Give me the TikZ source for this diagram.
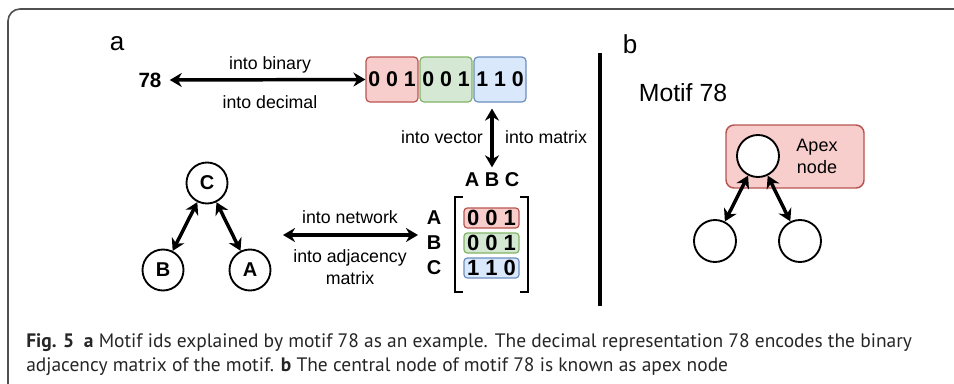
\documentclass[tikz,border=0pt]{standalone}
\usepackage{fontspec}
\setmainfont{Liberation Sans}
\newfontfamily\capfont{PT Sans}
\usetikzlibrary{arrows.meta}
\definecolor{redfill}{HTML}{F8CECC}
\definecolor{redline}{HTML}{B85450}
\definecolor{greenfill}{HTML}{D5E8D4}
\definecolor{greenline}{HTML}{82B366}
\definecolor{bluefill}{HTML}{DAE8FC}
\definecolor{blueline}{HTML}{6C8EBF}
\definecolor{framegray}{HTML}{505050}
\tikzset{
  lbl/.style={font=\fontsize{13.3}{16}\selectfont, inner sep=1pt},
  panel/.style={font=\fontsize{19.5}{20}\selectfont, inner sep=0pt},
  bold/.style={font=\fontsize{15}{15}\selectfont\bfseries, inner sep=1pt},
  bitsbox/.style={rounded corners=3pt, line width=0.9pt, inner sep=0pt,
    minimum width=39pt, minimum height=33.75pt, font=\fontsize{16}{16}\selectfont\bfseries},
  rowbox/.style={rounded corners=2.5pt, line width=0.9pt, inner sep=0pt,
    minimum width=41.25pt, minimum height=15pt, font=\fontsize{16.5}{16}\selectfont\bfseries},
  vertex/.style={circle, draw, line width=1.4pt, minimum size=30.75pt, inner sep=0pt,
    font=\fontsize{15}{15}\selectfont\bfseries},
  dbl/.style={{Stealth[length=9pt,width=10.5pt]}-{Stealth[length=9pt,width=10.5pt]}, line width=2.6pt},
}
\begin{document}
\begin{tikzpicture}[x=0.75pt,y=-0.75pt]
    \useasboundingbox (0,0) rectangle (954,383);
    \clip (0,0) rectangle (954,383);
    %frame
    \draw[framegray, line width=1.2pt, rounded corners=9pt] (8,400) -- (8,9) -- (970,9);
    \draw[line width=3pt] (600,53) -- (600,306);

    %panel a
    \node[panel] (pa) at (117,44) {a};
    \node[bold, font=\fontsize{15.5}{15}\selectfont\bfseries] (n78) at (150,80) {78};
    \node[bitsbox, fill=redfill, draw=redline] (bitr) at (392,79.5) {0 0 1};
    \node[bitsbox, fill=greenfill, draw=greenline] (bitg) at (446,79.5) {0 0 1};
    \node[bitsbox, fill=bluefill, draw=blueline] (bitb) at (500,79.5) {1 1 0};
    \node[lbl] (tobin) at (270,65) {into binary};
    \node[lbl] (todec) at (270,102) {into decimal};
    \node[lbl] (tovec) at (442,137) {into vector};
    \node[lbl] (tomat) at (546,137) {into matrix};

    % matrix
    \node[bold] (hdr) at (492,180) {A B C};
    \node[rowbox, fill=redfill, draw=redline] (rowa) at (491.5,218) {0 0 1};
    \node[rowbox, fill=greenfill, draw=greenline] (rowb) at (491.5,243) {0 0 1};
    \node[rowbox, fill=bluefill, draw=blueline] (rowc) at (491.5,268) {1 1 0};
    \node[bold] (la) at (434,218) {A};
    \node[bold] (lb) at (434,243) {B};
    \node[bold] (lc) at (434,268) {C};
    \node[minimum width=54.75pt, minimum height=71.25pt, inner sep=0pt] (mat) at (491.5,244.5) {};
    \draw[line width=1.5pt] ([xshift=6pt]mat.north west) -- (mat.north west) -- (mat.south west) -- ([xshift=6pt]mat.south west);
    \draw[line width=1.5pt] ([xshift=-6pt]mat.north east) -- (mat.north east) -- (mat.south east) -- ([xshift=-6pt]mat.south east);

    % network
    \node[vertex] (vc) at (207,183) {C};
    \node[vertex] (vb) at (163,270) {B};
    \node[vertex] (va) at (250,270) {A};
    \node[lbl] (tonet) at (350,217) {into network};
    \node[lbl, align=center, font=\fontsize{13.3}{16.5}\selectfont] (toadj) at (350,267) {into adjacency\\matrix};
    \coordinate (netl) at (283,235);
    \coordinate (netr) at (418,235);

    %edges
    \draw[dbl] ([xshift=5pt]n78.east) -- (bitr.west);
    \draw[dbl] ([yshift=-4.5pt]hdr.north |- bitb.south) -- ([yshift=3pt]hdr.north);
    \draw[dbl] (netl) -- (netr);
    \draw[dbl] (vc) -- (vb);
    \draw[dbl] (vc) -- (va);

    %panel b
    \node[panel] (pb) at (630,44) {b};
    \node[font=\fontsize{18.6}{20}\selectfont, inner sep=0pt] (motif) at (683,93) {Motif 78};
    \node[rounded corners=6pt, fill=redfill, draw=redline, line width=1.1pt,
      minimum width=103.5pt, minimum height=47.25pt] (apexbg) at (795,156.5) {};
    \node[vertex, fill=white, minimum size=31.5pt] (apex) at (758,156) {};
    \node[lbl, align=center, font=\fontsize{13.5}{16.5}\selectfont] (apextxt) at (817,156) {Apex\\node};
    \node[vertex, minimum size=31.5pt] (ml) at (715,241) {};
    \node[vertex, minimum size=31.5pt] (mr) at (800,241) {};
    \draw[dbl] (apex) -- (ml);
    \draw[dbl] (apex) -- (mr);

    %caption
    \node[anchor=base west, inner sep=0pt, font=\capfont\fontsize{14.6}{18}\selectfont, text=black!85] (cap1) at (26,347)
      {\textbf{Fig. 5}\enspace\textbf{a} Motif ids explained by motif 78 as an example. The decimal representation 78 encodes the binary};
    \node[anchor=base west, inner sep=0pt, font=\capfont\fontsize{14.6}{18}\selectfont, text=black!85] (cap2) at (26,371)
      {adjacency matrix of the motif. \textbf{b} The central node of motif 78 is known as apex node};
\end{tikzpicture}
\end{document}
